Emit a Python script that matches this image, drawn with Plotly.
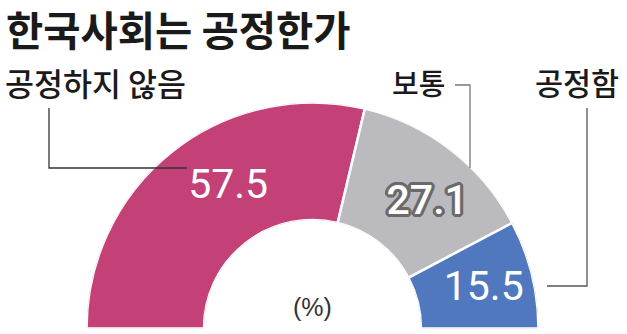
import plotly.graph_objects as go

# ---- data ----
categories = ["공정하지 않음", "보통", "공정함"]
values = [57.5, 27.1, 15.5]
colors = ["#C44177", "#BBBBBF", "#5078BF"]
title_text = "한국사회는 공정한가"
unit_text = "(%)"

W, H = 627, 334

# geometry (pixels)
CX, CY, R = 312.5, 328.5, 226.0
HOLE = 0.48

def px(x):
    return x / W

def py(y):
    return 1 - y / H

total = sum(values)
spans = [v / total * 180 for v in values]
starts = [sum(spans[:i]) for i in range(len(spans))]
mids = [s + w / 2 for s, w in zip(starts, spans)]

fig = go.Figure()

fig.add_trace(go.Barpolar(
    r=[1] * len(values),
    theta=mids,
    width=spans,
    marker=dict(color=colors, line=dict(color="white", width=2.5)),
    hoverinfo="skip",
    showlegend=False,
))

# value labels placed in polar coordinates
label_dtheta = [7.3, 4.8, 1.3]
label_r = [0.47, 0.52, 0.57]
shadow_271 = ", ".join(
    f"{dx}px {dy}px 0 #6a6a6a"
    for dx, dy in [(3, 0), (-3, 0), (0, 3), (0, -3), (2, 2), (-2, 2), (2, -2), (-2, -2),
                   (3, 1), (3, -1), (-3, 1), (-3, -1), (1, 3), (-1, 3), (1, -3), (-1, -3)]
)
for i, v in enumerate(values):
    fnt = dict(family="Roboto, Liberation Sans, sans-serif",
               size=41, color="white")
    if i == 1:
        fnt["shadow"] = shadow_271
        fnt["weight"] = 500
    fig.add_trace(go.Scatterpolar(
        r=[label_r[i]],
        theta=[mids[i] + label_dtheta[i]],
        mode="text",
        text=[f"{v}"],
        textposition="middle center",
        textfont=fnt,
        hoverinfo="skip",
        showlegend=False,
    ))

fig.update_layout(
    width=W, height=H,
    margin=dict(l=0, r=0, t=0, b=0),
    paper_bgcolor="white",
    plot_bgcolor="white",
    polar=dict(
        domain=dict(x=[px(CX - R), px(CX + R)], y=[py(CY), py(CY - R)]),
        sector=[0, 180],
        hole=HOLE,
        bgcolor="rgba(0,0,0,0)",
        radialaxis=dict(range=[0, 1], visible=False, showgrid=False),
        angularaxis=dict(rotation=180, direction="clockwise", visible=False,
                         showgrid=False, thetaunit="degrees"),
    ),
)

kfont = "Noto Sans CJK KR, Noto Sans CJK SC, sans-serif"
annotations = [
    dict(x=px(4), y=py(28), text=title_text, xanchor="left", yanchor="middle",
         font=dict(family=kfont, size=40.5, color="#1a1a1a", weight="bold")),
    dict(x=px(3), y=py(82), text=categories[0], xanchor="left", yanchor="middle",
         font=dict(family=kfont, size=31.5, color="#1a1a1a", weight=500)),
    dict(x=px(418.5), y=py(82), text=categories[1], xanchor="center", yanchor="middle",
         font=dict(family=kfont, size=29, color="#1a1a1a", weight=500)),
    dict(x=px(576.5), y=py(82), text=categories[2], xanchor="center", yanchor="middle",
         font=dict(family=kfont, size=30.5, color="#1a1a1a", weight=500)),
    dict(x=px(312.5), y=py(307), text=unit_text, xanchor="center", yanchor="middle",
         font=dict(family="Liberation Sans, Arial, sans-serif", size=25, color="#333333")),
]
for a in annotations:
    a.update(xref="paper", yref="paper", showarrow=False)
fig.update_layout(annotations=annotations)

def path(points):
    return "M " + " L ".join(f"{px(x)},{py(y)}" for x, y in points)

shapes = [
    dict(type="path", path=path([(49, 108), (49, 168), (187, 168)]),
         line=dict(color="#333333", width=1.3)),
    dict(type="path", path=path([(455, 85), (470, 85), (470, 168)]),
         line=dict(color="#777777", width=1.3)),
    dict(type="path", path=path([(587, 108), (587, 286), (547, 286)]),
         line=dict(color="#555555", width=1.3)),
]
for s in shapes:
    s.update(xref="paper", yref="paper")
fig.update_layout(shapes=shapes)

fig.write_html("out.html")
